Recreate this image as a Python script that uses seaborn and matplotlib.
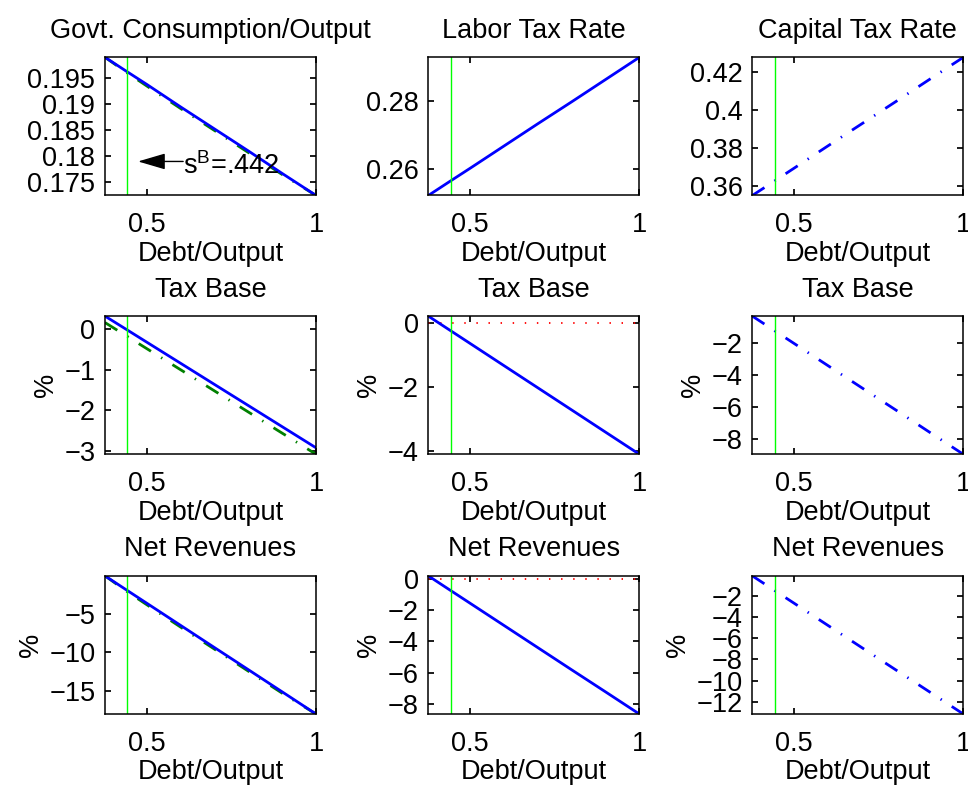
import numpy as np
import pandas as pd
import seaborn as sns
import matplotlib.pyplot as plt
from matplotlib.ticker import FuncFormatter

# Debt/Output grid
debt_output = [0.376, 0.44, 0.5, 0.6, 0.7, 0.8, 0.9, 1.0]
s_b = 0.442

# Row 1: levels
govt_cons_blue = [0.1989, 0.1962, 0.1937, 0.1894, 0.1852, 0.1810, 0.1767, 0.1725]
govt_cons_green = [0.1989, 0.1960, 0.1934, 0.1891, 0.1849, 0.1807, 0.1765, 0.1725]
labor_tax = [0.2521, 0.2563, 0.2602, 0.2668, 0.2734, 0.2799, 0.2865, 0.2931]
capital_tax = [0.3549, 0.3623, 0.3693, 0.3810, 0.3926, 0.4042, 0.4159, 0.4275]

# Row 2: tax base (%)
base_total_blue = [0.33, -0.004, -0.318, -0.840, -1.363, -1.885, -2.408, -2.93]
base_total_green = [0.17, -0.164, -0.478, -1.00, -1.523, -2.045, -2.568, -3.09]
base_labor = [0.21, -0.233, -0.648, -1.341, -2.033, -2.725, -3.418, -4.11]
base_labor_ref = [0, 0, 0, 0, 0, 0, 0, 0]
base_capital = [-0.33, -1.215, -2.045, -3.428, -4.81, -6.19, -7.58, -8.96]

# Row 3: net revenues (%)
rev_total_blue = [-0.1, -1.94, -3.66, -6.53, -9.40, -12.26, -15.13, -18.0]
rev_total_green = [-0.1, -2.10, -3.85, -6.75, -9.60, -12.45, -15.30, -18.0]
rev_labor = [0.2, -0.71, -1.56, -2.98, -4.40, -5.82, -7.23, -8.65]
rev_labor_ref = [0, 0, 0, 0, 0, 0, 0, 0]
rev_capital = [-0.13, -1.47, -2.72, -4.81, -6.90, -8.99, -11.07, -13.16]

titles = ["Govt. Consumption/Output", "Labor Tax Rate", "Capital Tax Rate",
          "Tax Base", "Tax Base", "Tax Base",
          "Net Revenues", "Net Revenues", "Net Revenues"]
yticks = [[0.175, 0.18, 0.185, 0.19, 0.195], [0.26, 0.28], [0.36, 0.38, 0.4, 0.42],
          [-3, -2, -1, 0], [-4, -2, 0], [-8, -6, -4, -2],
          [-15, -10, -5], [-8, -6, -4, -2, 0], [-12, -10, -8, -6, -4, -2]]

FS = 19.5
sns.set_theme(style="ticks", rc={
    "xtick.direction": "in", "ytick.direction": "in",
    "xtick.top": True, "ytick.right": True,
    "xtick.major.size": 4, "ytick.major.size": 4,
    "xtick.major.pad": 12, "ytick.major.pad": 7,
    "axes.linewidth": 1.1, "axes.edgecolor": "black",
    "xtick.color": "black", "ytick.color": "black",
    "text.color": "black", "axes.labelcolor": "black",
    "font.size": FS, "axes.titlesize": FS, "axes.labelsize": FS,
    "xtick.labelsize": FS, "ytick.labelsize": FS,
})
plt.rcParams["font.family"] = ["Liberation Sans", "DejaVu Sans"]
plt.rcParams["mathtext.fontset"] = "custom"
plt.rcParams["mathtext.rm"] = "Liberation Sans"

BLUE = "#0000ff"
DKGREEN = "#008000"
LIME = "#00ff00"
RED = "#ff0000"
dashdot = (0, (5.2, 4.3, 0.5, 4.3))
dotted = (0, (0.8, 5.9))

fig, axes = plt.subplots(3, 3, figsize=(9.68, 7.85), dpi=100)

lefts = [0.1085, 0.4425, 0.7772]
bottoms = [0.751, 0.4213, 0.0904]
for r in range(3):
    for c in range(3):
        axes[r, c].set_position([lefts[c], bottoms[r], 0.218, 0.176])

panels = [
    [(govt_cons_green, DKGREEN, dashdot, 2.0), (govt_cons_blue, BLUE, "-", 2.0)],
    [(labor_tax, BLUE, "-", 2.0)],
    [(capital_tax, BLUE, dashdot, 2.0)],
    [(base_total_green, DKGREEN, dashdot, 2.0), (base_total_blue, BLUE, "-", 2.0)],
    [(base_labor_ref, RED, dotted, 1.3), (base_labor, BLUE, "-", 2.0)],
    [(base_capital, BLUE, dashdot, 2.0)],
    [(rev_total_green, DKGREEN, dashdot, 2.0), (rev_total_blue, BLUE, "-", 2.0)],
    [(rev_labor_ref, RED, dotted, 1.3), (rev_labor, BLUE, "-", 2.0)],
    [(rev_capital, BLUE, dashdot, 2.0)],
]

fmt = FuncFormatter(lambda v, p: ("%g" % v).replace("-", "\u2212"))

for i, ax in enumerate(axes.flat):
    ymin, ymax = np.inf, -np.inf
    for vals, col, ls, lw in panels[i]:
        df = pd.DataFrame({"x": debt_output, "y": vals})
        sns.lineplot(data=df, x="x", y="y", color=col, linestyle=ls, lw=lw, ax=ax)
        ymin, ymax = min(ymin, min(vals)), max(ymax, max(vals))
    ax.axvline(s_b, color=LIME, lw=1.0)
    ax.set_xlim(debt_output[0], 1)
    ax.set_ylim(ymin, ymax)
    ax.set_xticks([0.5, 1])
    ax.set_xticklabels(["0.5", "1"])
    ax.set_yticks(yticks[i])
    ax.yaxis.set_major_formatter(fmt)
    ax.set_title(titles[i], pad=14)
    ax.set_xlabel("Debt/Output", labelpad=2)
    ax.set_ylabel("%" if i >= 3 else "")
    for s in ax.spines.values():
        s.set_visible(True)

# s^B annotation in the first panel
ax0 = axes[0, 0]
ax0.annotate("", xy=(0.4736, 0.179), xytext=(0.607, 0.179),
             arrowprops=dict(arrowstyle="-|>,head_length=0.85,head_width=0.25",
                             color="black", lw=1.0, shrinkA=0, shrinkB=0,
                             mutation_scale=20))
ax0.text(0.606, 0.1766, "s$^\\mathregular{B}$=.442", va="baseline", ha="left")

fig.savefig("out.png", dpi=100)
